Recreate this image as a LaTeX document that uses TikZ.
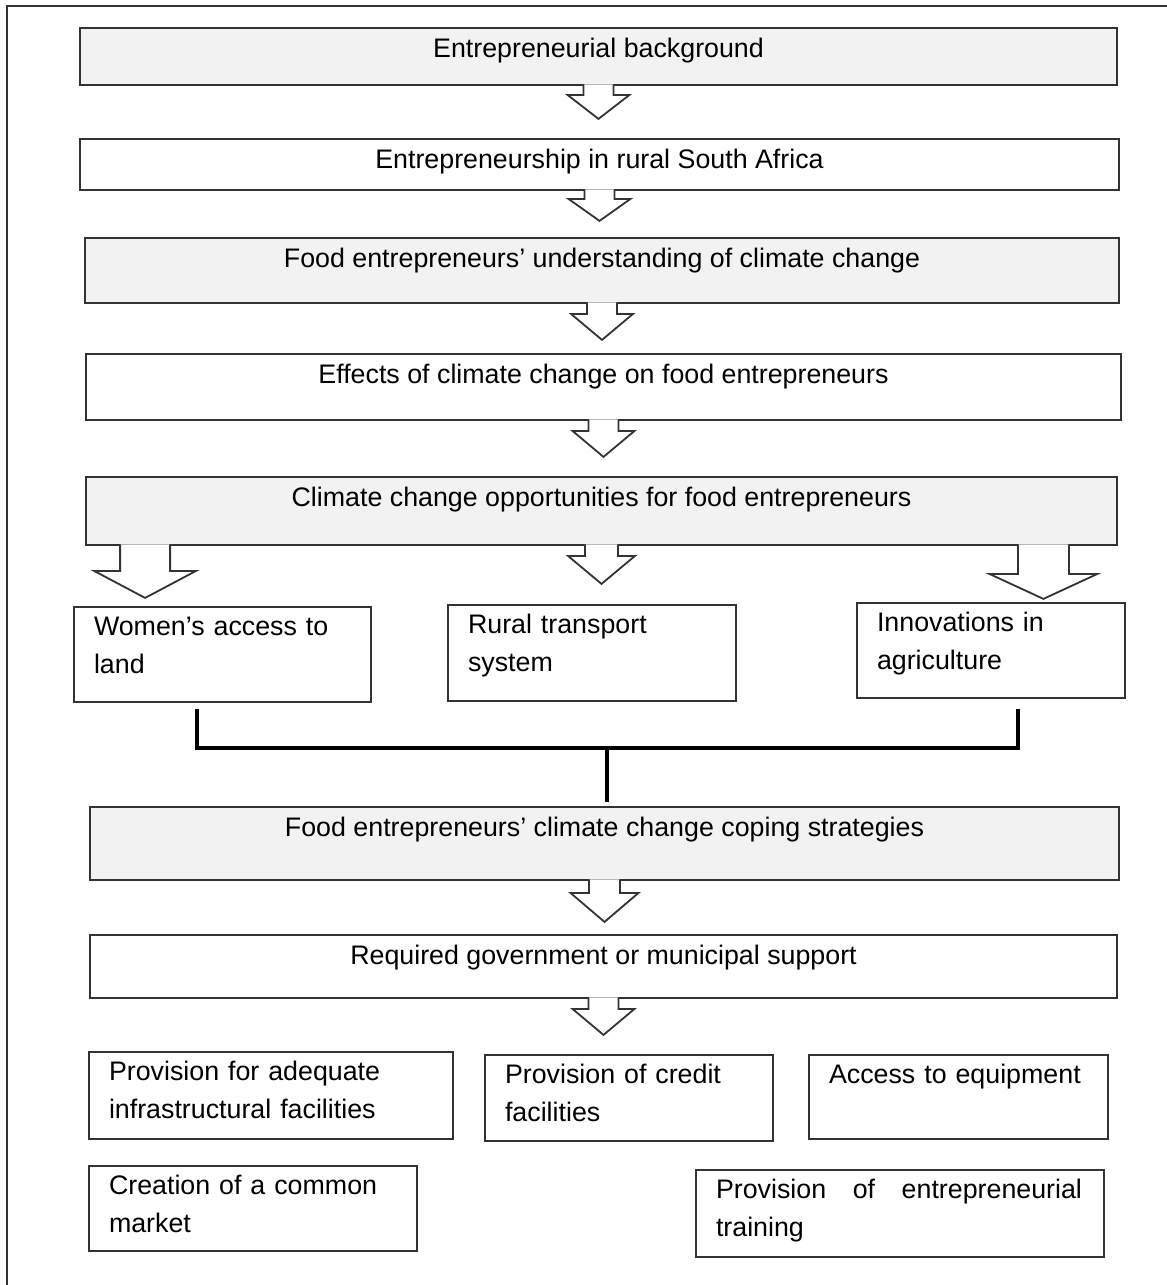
\documentclass[tikz,border=0pt]{standalone}
\usepackage{fontspec}
\setmainfont{Liberation Sans}

\definecolor{boxgray}{HTML}{F2F2F2}
\definecolor{edgegray}{HTML}{333333}

\tikzset{
  pics/hollow/.style n args={4}{code={
    \draw[draw=edgegray, fill=white] (-#1,-1.5) -- (-#1,#3) -- (-#2,#3) -- (0,#3+#4) -- (#2,#3) -- (#1,#3) -- (#1,-1.5);
  }}
}

\begin{document}
\begin{tikzpicture}[x=0.5pt, y=-0.5pt, line width=0.9pt,
    every node/.style={font=\fontsize{13.4}{19}\selectfont, text=black},
    band/.style={draw=edgegray, inner sep=0pt, text height=14.5pt, text depth=#1-14.5pt},
    shaded/.style={band=#1, fill=boxgray},
    item/.style={draw=edgegray, inner ysep=0pt, inner xsep=10pt, align=left, text height=14pt, text depth=#1-14pt},
    joint/.style={line width=2pt, black}]
    \useasboundingbox (0,0) rectangle (1167,1285);

    % Frame
    \draw[edgegray, line width=1pt] (7,1300) |- (1185,6);

    % Main chain
    \node[shaded=28.5pt, minimum width=518.5pt] (bg) at (598.5,56.5) {Entrepreneurial background};
    \node[band=25.5pt, minimum width=519.5pt] (rural) at (599.5,164.5) {Entrepreneurship in rural South Africa};
    \node[shaded=32.5pt, minimum width=517pt] (underst) at (602,270.5) {Food entrepreneurs’ understanding of climate change};
    \node[band=33pt, minimum width=517.5pt] (effects) at (603.5,387) {Effects of climate change on food entrepreneurs};
    \node[shaded=34pt, minimum width=515.5pt] (opport) at (601.5,511) {Climate change opportunities for food entrepreneurs};

    % Opportunities
    \node[item=47.5pt, text width=128.5pt] (women) at (222.5,654.5) {Women’s access to\\land};
    \node[item=48pt, text width=124pt] (transport) at (592,653) {Rural transport\\system};
    \node[item=47.5pt, text width=114pt] (innov) at (991,650.5) {Innovations in\\agriculture};

    % Coping and support
    \node[shaded=36.5pt, minimum width=514.5pt] (coping) at (604.5,843.5) {Food entrepreneurs’ climate change coping strategies};
    \node[band=31.5pt, minimum width=513.5pt] (support) at (603.5,966.5) {Required government or municipal support};

    % Support items
    \node[item=43.5pt, text width=162pt] (infra) at (271,1095.5) {Provision for adequate\\infrastructural facilities};
    \node[item=43pt, text width=124pt] (credit) at (629,1098) {Provision of credit\\facilities};
    \node[item=42pt, text width=129.5pt] (equip) at (958.5,1097) {Access to equipment};
    \node[item=42.5pt, text width=144pt] (market) at (253,1208.5) {Creation of a common\\market};
    \node[item=43.5pt, text width=184pt] (training) at (900,1213.5) {\makebox[183pt][l]{Provision\hfill of\hfill entrepreneurial}\\training};

    % Block arrows
    \pic at (bg.south) {hollow={15}{31}{9}{24}};
    \pic at (rural.south) {hollow={15}{31}{8}{22}};
    \pic at (underst.south) {hollow={15}{31}{10}{26}};
    \pic at (effects.south) {hollow={15}{31}{10}{26}};
    \pic at ([xshift=30pt]opport.south west) {hollow={25}{51}{25}{27}};
    \pic at (opport.south) {hollow={16.5}{33.5}{10}{28}};
    \pic at ([xshift=-37.25pt]opport.south east) {hollow={25.5}{54}{28}{25}};
    \pic at (coping.south) {hollow={15.5}{34}{12}{29}};
    \pic at (support.south) {hollow={15}{31}{10}{26}};

    % Joining bracket
    \coordinate (jl) at (197,709);
    \coordinate (jr) at (1018,709);
    \coordinate (jm) at (607,748);
    \draw[joint] (jl) |- (jm) -| (jr);
    \draw[joint, shorten >=2pt] (jm) -- (jm |- coping.north);
\end{tikzpicture}
\end{document}
